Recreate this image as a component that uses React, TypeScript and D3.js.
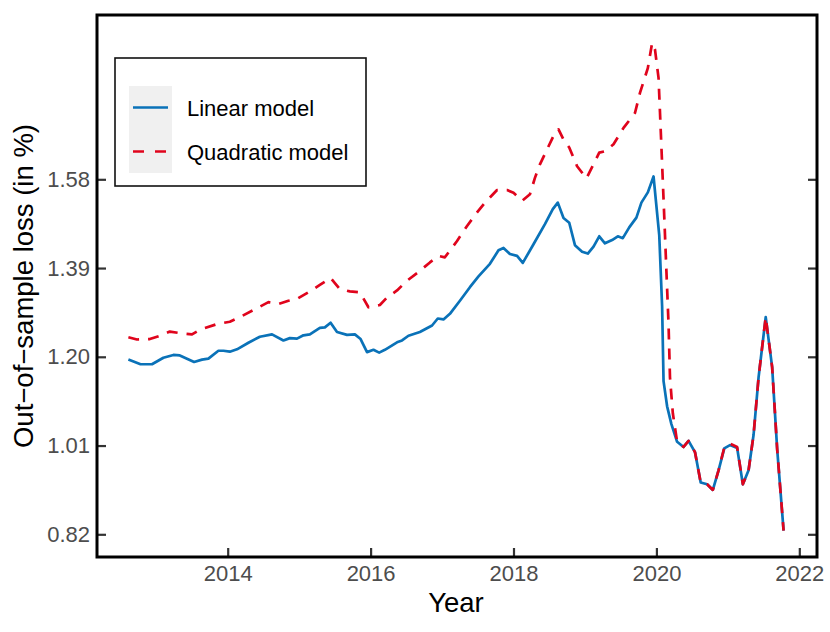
import { useEffect, useRef } from "react";
import * as d3 from "d3";

// monthly-ish readings of the two loss series (decimal year, loss in %)
const LINEAR_DATES = [
  2012.61, 2012.78, 2012.94, 2013.10, 2013.24, 2013.33, 2013.53, 2013.64, 2013.73, 2013.87,
  2013.94, 2014.03, 2014.13, 2014.29, 2014.45, 2014.62, 2014.78, 2014.87, 2014.97, 2015.06,
  2015.15, 2015.29, 2015.36, 2015.44, 2015.53, 2015.67, 2015.78, 2015.86, 2015.95, 2016.04,
  2016.12, 2016.20, 2016.37, 2016.44, 2016.53, 2016.69, 2016.86, 2016.94, 2017.02, 2017.11,
  2017.25, 2017.39, 2017.51, 2017.67, 2017.79, 2017.86, 2017.95, 2018.05, 2018.13, 2018.28,
  2018.44, 2018.55, 2018.62, 2018.70, 2018.78, 2018.86, 2018.96, 2019.04, 2019.12, 2019.20,
  2019.28, 2019.38, 2019.46, 2019.53, 2019.62, 2019.72, 2019.79, 2019.88, 2019.96, 2020.04,
  2020.08, 2020.10, 2020.15, 2020.21, 2020.29, 2020.38, 2020.45, 2020.54, 2020.62, 2020.71,
  2020.79, 2020.87, 2020.95, 2021.03, 2021.13, 2021.21, 2021.29, 2021.36, 2021.43, 2021.53,
  2021.62, 2021.69, 2021.78,
];
const LINEAR_LOSS = [
  1.194, 1.184, 1.184, 1.198, 1.204, 1.203, 1.189, 1.194, 1.196, 1.213,
  1.213, 1.211, 1.216, 1.230, 1.243, 1.248, 1.235, 1.240, 1.239, 1.246,
  1.248, 1.262, 1.263, 1.273, 1.253, 1.247, 1.248, 1.238, 1.210, 1.215,
  1.209, 1.215, 1.231, 1.235, 1.245, 1.253, 1.267, 1.282, 1.280, 1.292,
  1.320, 1.349, 1.372, 1.399, 1.428, 1.433, 1.420, 1.416, 1.401, 1.441,
  1.484, 1.516, 1.530, 1.497, 1.487, 1.439, 1.425, 1.421, 1.436, 1.458,
  1.443, 1.450, 1.458, 1.454, 1.477, 1.498, 1.530, 1.552, 1.586, 1.460,
  1.308, 1.148, 1.094, 1.056, 1.018, 1.007, 1.020, 0.996, 0.931, 0.927,
  0.915, 0.957, 1.004, 1.011, 1.005, 0.927, 0.957, 1.033, 1.156, 1.285,
  1.178, 1.003, 0.828,
];

const QUAD_DATES = [
  2012.61, 2012.73, 2012.91, 2013.05, 2013.19, 2013.36, 2013.50, 2013.61, 2013.85, 2014.03,
  2014.17, 2014.36, 2014.57, 2014.71, 2014.85, 2014.97, 2015.15, 2015.29, 2015.44, 2015.57,
  2015.71, 2015.85, 2015.97, 2016.13, 2016.23, 2016.37, 2016.51, 2016.69, 2016.83, 2016.95,
  2017.04, 2017.21, 2017.35, 2017.49, 2017.60, 2017.77, 2017.91, 2018.00, 2018.12, 2018.23,
  2018.30, 2018.37, 2018.47, 2018.56, 2018.63, 2018.70, 2018.78, 2018.89, 2019.02, 2019.12,
  2019.20, 2019.28, 2019.40, 2019.54, 2019.70, 2019.77, 2019.88, 2019.94, 2019.98, 2020.03,
  2020.05, 2020.08, 2020.11, 2020.14, 2020.17, 2020.19, 2020.23, 2020.29, 2020.38, 2020.45,
  2020.54, 2020.62, 2020.71, 2020.79, 2020.87, 2020.95, 2021.03, 2021.13, 2021.21, 2021.29,
  2021.36, 2021.43, 2021.53, 2021.62, 2021.69, 2021.78,
];
const QUAD_LOSS = [
  1.242, 1.237, 1.238, 1.245, 1.254, 1.250, 1.248, 1.258, 1.270, 1.275,
  1.285, 1.300, 1.317, 1.313, 1.320, 1.324, 1.340, 1.354, 1.369, 1.345,
  1.340, 1.338, 1.306, 1.311, 1.327, 1.342, 1.363, 1.384, 1.402, 1.416,
  1.413, 1.448, 1.480, 1.509, 1.530, 1.557, 1.557, 1.551, 1.534, 1.548,
  1.583, 1.612, 1.644, 1.673, 1.687, 1.665, 1.648, 1.608, 1.582, 1.612,
  1.637, 1.640, 1.655, 1.690, 1.722, 1.765, 1.818, 1.872, 1.858, 1.797,
  1.724, 1.613, 1.500, 1.384, 1.270, 1.156, 1.079, 1.018, 1.007, 1.020,
  0.996, 0.931, 0.927, 0.915, 0.957, 1.006, 1.014, 1.007, 0.927, 0.957,
  1.033, 1.156, 1.285, 1.178, 1.003, 0.828,
];

const X_TICKS = [2014, 2016, 2018, 2020, 2022];
const Y_TICKS = [0.82, 1.01, 1.2, 1.39, 1.58];

const SERIES = [
  { name: "Linear model", dates: LINEAR_DATES, loss: LINEAR_LOSS, color: "#0a72b8", dash: null },
  { name: "Quadratic model", dates: QUAD_DATES, loss: QUAD_LOSS, color: "#e0041c", dash: "11,9" },
];

const W = 830, H = 632;
const FONT = "'Liberation Sans', Arial, Helvetica, sans-serif";
const PL = 97, PR = 817, PT = 15, PB = 557;

export default function App() {
  const gx = useRef<SVGGElement>(null);
  const gy = useRef<SVGGElement>(null);
  const gyr = useRef<SVGGElement>(null);

  const x = d3.scaleLinear().domain([2014, 2022]).range([227.7, 799.3]);
  const y = d3.scaleLinear().domain([0.82, 1.58]).range([534.3, 179.3]);

  const line = d3.line<[number, number]>().x(d => x(d[0])).y(d => y(d[1]));

  useEffect(() => {
    const style = (g: d3.Selection<SVGGElement, unknown, null, undefined>) => {
      g.select(".domain").remove();
      g.selectAll("line").attr("stroke", "#333").attr("stroke-width", 2.2);
      g.selectAll("text").attr("fill", "#4d4d4d").attr("font-size", 22).attr("font-family", FONT);
    };
    d3.select(gx.current!)
      .call(d3.axisBottom(x).tickValues(X_TICKS).tickSize(-9).tickPadding(8).tickFormat(d3.format("d")))
      .call(style);
    d3.select(gy.current!)
      .call(d3.axisLeft(y).tickValues(Y_TICKS).tickSize(-9).tickPadding(7).tickFormat(d3.format(".2f")))
      .call(style);
    d3.select(gyr.current!)
      .call(d3.axisRight(y).tickValues(Y_TICKS).tickSize(-9).tickFormat(() => ""))
      .call(style);
  }, []);

  return (
    <svg width={W} height={H} style={{ position: "absolute", left: 0, top: 0, background: "#fff" }}>
      <defs>
        <clipPath id="plot">
          <rect x={PL} y={PT} width={PR - PL} height={PB - PT} />
        </clipPath>
      </defs>
      <g clipPath="url(#plot)">
        {SERIES.map(s => (
          <path
            key={s.name}
            d={line(s.dates.map((d, i) => [d, s.loss[i]] as [number, number])) || ""}
            fill="none"
            stroke={s.color}
            strokeWidth={2.7}
            strokeDasharray={s.dash || undefined}
            strokeLinejoin="round"
          />
        ))}
      </g>

      <g ref={gx} transform={`translate(0,${PB})`} />
      <g ref={gy} transform={`translate(${PL},0)`} />
      <g ref={gyr} transform={`translate(${PR},0)`} />

      <rect x={PL} y={PT} width={PR - PL} height={PB - PT} fill="none" stroke="#000" strokeWidth={3} />

      {/* legend */}
      <rect x={115} y={58} width={251} height={128} fill="#fff" stroke="#111" strokeWidth={1.6} />
      <rect x={129} y={86} width={43} height={87} fill="#f0f0f0" />
      {SERIES.map((s, i) => (
        <g key={s.name}>
          <line
            x1={133} x2={168} y1={107.5 + i * 44} y2={107.5 + i * 44}
            stroke={s.color} strokeWidth={2.7}
            strokeDasharray={s.dash ? "11,11" : undefined}
          />
          <text x={187} y={116 + i * 43.5} fontSize={22} fontFamily={FONT} fill="#000">{s.name}</text>
        </g>
      ))}

      <text x={456} y={612} textAnchor="middle" fontSize={27.5} fontFamily={FONT} fill="#000">Year</text>
      <text
        transform={`translate(33,${(PT + PB) / 2}) rotate(-90)`}
        textAnchor="middle" fontSize={27.5} fontFamily={FONT} fill="#000"
      >
        Out−of−sample loss (in %)
      </text>
    </svg>
  );
}
